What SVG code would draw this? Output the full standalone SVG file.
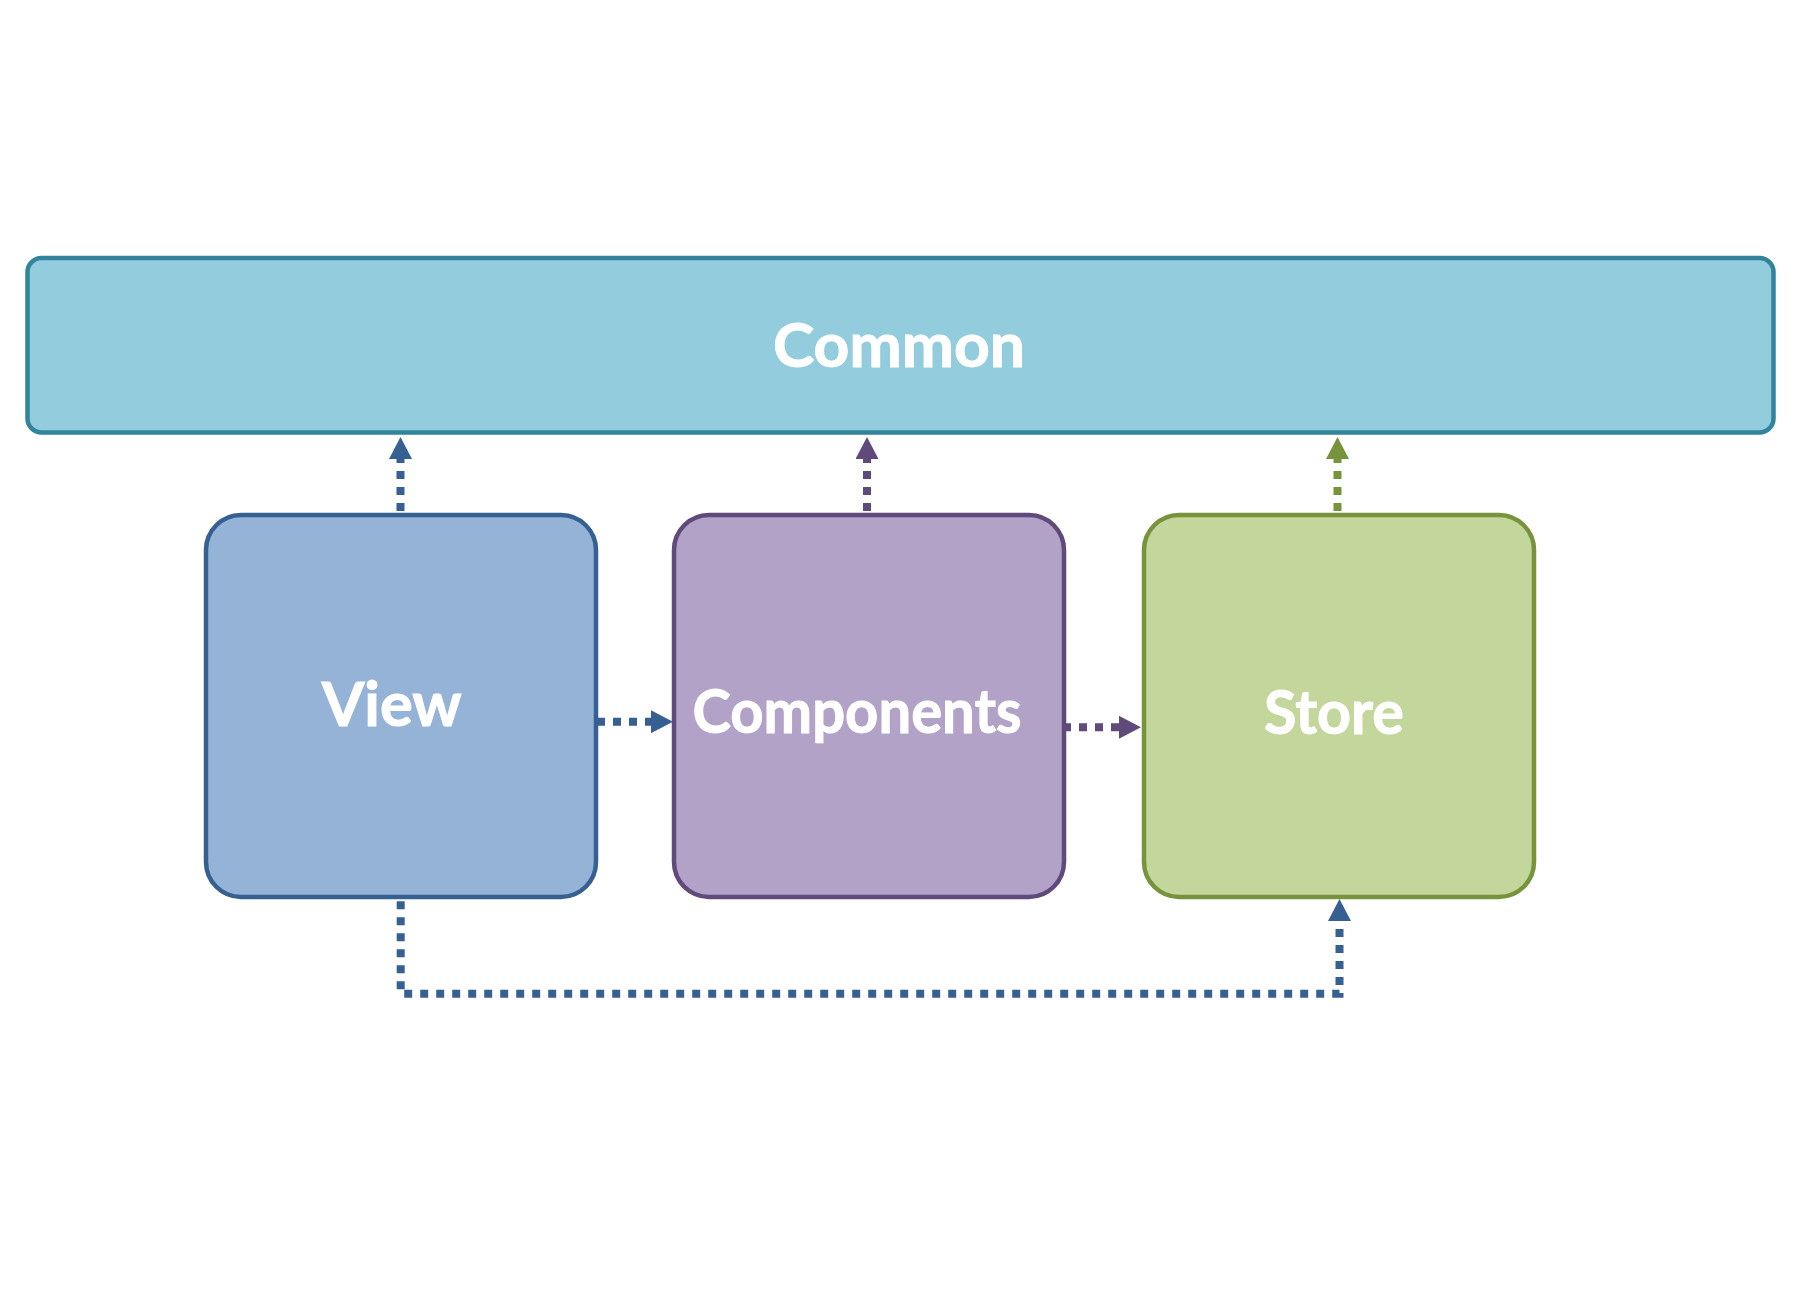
<svg xmlns="http://www.w3.org/2000/svg" width="1800" height="1313" viewBox="0 0 1800 1313">
<style>
  .box { stroke-width: 4.5; }
  .lbl { font-family: "Lato", "Liberation Sans", sans-serif; font-weight: bold; font-size: 62px; fill: #ffffff; stroke: #ffffff; stroke-width: 1; text-anchor: middle; }
  .conn { fill: none; stroke-width: 8; stroke-dasharray: 8 8; }
  .blue { stroke: #376092; }
  .purple { stroke: #604A7B; }
  .green { stroke: #77933C; }
</style>
<defs>
  <marker id="ahBlue" markerUnits="userSpaceOnUse" viewBox="0 0 22 23" markerWidth="22" markerHeight="23" refX="0" refY="11.5" orient="auto">
    <path d="M0,0 L22,11.5 L0,23 Z" fill="#376092"/>
  </marker>
  <marker id="ahPurple" markerUnits="userSpaceOnUse" viewBox="0 0 22 23" markerWidth="22" markerHeight="23" refX="0" refY="11.5" orient="auto">
    <path d="M0,0 L22,11.5 L0,23 Z" fill="#604A7B"/>
  </marker>
  <marker id="ahGreen" markerUnits="userSpaceOnUse" viewBox="0 0 22 23" markerWidth="22" markerHeight="23" refX="0" refY="11.5" orient="auto">
    <path d="M0,0 L22,11.5 L0,23 Z" fill="#77933C"/>
  </marker>
</defs>
<rect width="1800" height="1313" fill="#ffffff"/>

<g id="common">
  <rect class="box" x="27.5" y="258" width="1746" height="174.5" rx="14" ry="14" fill="#93CDDD" stroke="#31849B"/>
  <text class="lbl" x="899" y="367.3" textLength="252" lengthAdjust="spacingAndGlyphs">Common</text>
</g>
<g id="view">
  <rect class="box" x="206" y="515" width="390" height="382" rx="35" ry="35" fill="#95B3D7" stroke="#376092"/>
  <text class="lbl" x="391.7" y="725.7" textLength="140" lengthAdjust="spacingAndGlyphs">View</text>
</g>
<g id="components">
  <rect class="box" x="674" y="515" width="390" height="382" rx="35" ry="35" fill="#B3A2C7" stroke="#604A7B"/>
  <text class="lbl" x="857" y="733.3" textLength="329" lengthAdjust="spacingAndGlyphs">Components</text>
</g>
<g id="store">
  <rect class="box" x="1144" y="515" width="390" height="382" rx="35" ry="35" fill="#C3D69B" stroke="#77933C"/>
  <text class="lbl" x="1334" y="734.3" textLength="140" lengthAdjust="spacingAndGlyphs">Store</text>
</g>

<g id="connectors">
  <path class="conn blue" d="M400.5,511 V459" marker-end="url(#ahBlue)"/>
  <path class="conn purple" d="M867,511 V459" marker-end="url(#ahPurple)"/>
  <path class="conn green" d="M1337.5,511 V459" marker-end="url(#ahGreen)"/>
  <path class="conn blue" d="M597,721.7 H651" marker-end="url(#ahBlue)"/>
  <path class="conn purple" d="M1063,727.3 H1119" marker-end="url(#ahPurple)"/>
  <path class="conn blue" d="M400.7,899 V993.7 H1339.5 V921" stroke-dashoffset="13.8" marker-end="url(#ahBlue)"/>
</g>
</svg>
